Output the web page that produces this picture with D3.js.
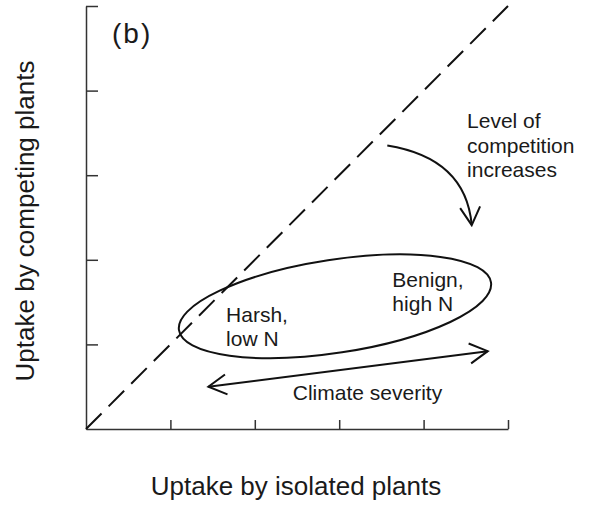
<!DOCTYPE html>
<html lang="en">
<head>
    <meta charset="UTF-8">
    <title>Uptake by competing vs isolated plants</title>
    <style>
        body { margin: 0; background: #fff; }
        text { font-family: "Liberation Sans", Arial, sans-serif; fill: #1a1a1a; }
        .axis path, .axis line { stroke: #333; stroke-width: 1.5; }
    </style>
</head>
<body>
    <div id="chart"></div>
    <script src="https://d3js.org/d3.v7.min.js"></script>
    <script>
        // data units: both axes run 0..5 with unlabelled ticks at 1..5
        const xTicks = [1, 2, 3, 4, 5];
        const yTicks = [1, 2, 3, 4, 5];

        // 1:1 line (competing = isolated)
        const oneToOne = [[0, 0], [5, 5]];

        // ellipse of conditions: centre, semi-axes, tilt (degrees)
        const ellipse = { cx: 2.95, cy: 1.45, rx: 1.87, ry: 0.55, tilt: 8.7 };

        // curved arrow: start, control, end
        const competitionArrow = [[3.57, 3.35], [4.50, 3.20], [4.57, 2.41]];

        // double-headed climate severity arrow
        const climateArrow = [[1.45, 0.50], [4.76, 0.92]];

        // annotation text, anchored in data units
        const labels = [
            { lines: ["Level of", "competition", "increases"], x: 4.515, y: 3.555 },
            { lines: ["Benign,", "high N"], x: 3.63, y: 1.68 },
            { lines: ["Harsh,", "low N"], x: 1.66, y: 1.27 },
            { lines: ["Climate severity"], x: 2.45, y: 0.345 }
        ];
        const panelLabel = "(b)";
        const xTitle = "Uptake by isolated plants";
        const yTitle = "Uptake by competing plants";

        const W = 589, H = 505;
        const svg = d3.select("#chart").append("svg")
            .attr("width", W)
            .attr("height", H);

        const x = d3.scaleLinear().domain([0, 5]).range([86, 508]);
        const y = d3.scaleLinear().domain([0, 5]).range([429, 6]);

        // arrowhead
        svg.append("defs").append("marker")
            .attr("id", "head")
            .attr("markerUnits", "userSpaceOnUse")
            .attr("viewBox", "-20 -12 22 24")
            .attr("refX", 0)
            .attr("refY", 0)
            .attr("markerWidth", 22)
            .attr("markerHeight", 24)
            .attr("orient", "auto-start-reverse")
            .append("path")
            .attr("d", "M-18,-10L0,0L-18,10")
            .attr("fill", "none")
            .attr("stroke", "#111")
            .attr("stroke-width", 2);

        // axes, ticks pointing inward
        svg.append("g")
            .attr("class", "axis")
            .attr("transform", "translate(0," + y(0) + ")")
            .call(d3.axisBottom(x).tickValues(xTicks).tickSize(-9).tickSizeOuter(0).tickFormat(""));

        svg.append("g")
            .attr("class", "axis")
            .attr("transform", "translate(" + x(0) + ",0)")
            .call(d3.axisLeft(y).tickValues(yTicks).tickSize(-12).tickSizeOuter(0).tickFormat(""));

        const line = d3.line().x(d => x(d[0])).y(d => y(d[1]));

        svg.append("path")
            .attr("d", line(oneToOne))
            .attr("fill", "none")
            .attr("stroke", "#111")
            .attr("stroke-width", 2)
            .attr("stroke-dasharray", "22,10");

        svg.append("ellipse")
            .attr("cx", x(ellipse.cx))
            .attr("cy", y(ellipse.cy))
            .attr("rx", x(ellipse.rx) - x(0))
            .attr("ry", y(0) - y(ellipse.ry))
            .attr("transform", "rotate(" + (-ellipse.tilt) + "," + x(ellipse.cx) + "," + y(ellipse.cy) + ")")
            .attr("fill", "none")
            .attr("stroke", "#111")
            .attr("stroke-width", 2);

        const c = competitionArrow;
        const curve = d3.path();
        curve.moveTo(x(c[0][0]), y(c[0][1]));
        curve.quadraticCurveTo(x(c[1][0]), y(c[1][1]), x(c[2][0]), y(c[2][1]));
        svg.append("path")
            .attr("d", curve.toString())
            .attr("fill", "none")
            .attr("stroke", "#111")
            .attr("stroke-width", 2)
            .attr("marker-end", "url(#head)");

        svg.append("path")
            .attr("d", line(climateArrow))
            .attr("fill", "none")
            .attr("stroke", "#111")
            .attr("stroke-width", 2)
            .attr("marker-start", "url(#head)")
            .attr("marker-end", "url(#head)");

        labels.forEach(l => {
            const t = svg.append("text")
                .attr("x", x(l.x))
                .attr("y", y(l.y))
                .style("font-size", "21px");
            l.lines.forEach((s, i) => {
                t.append("tspan")
                    .attr("x", x(l.x))
                    .attr("dy", i === 0 ? 0 : 24.5)
                    .text(s);
            });
        });

        svg.append("text")
            .attr("x", 112)
            .attr("y", 43)
            .style("font-size", "28px")
            .style("letter-spacing", "2px")
            .text(panelLabel);

        svg.append("text")
            .attr("x", 296)
            .attr("y", 495)
            .attr("text-anchor", "middle")
            .style("font-size", "26px")
            .text(xTitle);

        svg.append("text")
            .attr("transform", "translate(34,221) rotate(-90)")
            .attr("text-anchor", "middle")
            .style("font-size", "26px")
            .text(yTitle);
    </script>
</body>
</html>
